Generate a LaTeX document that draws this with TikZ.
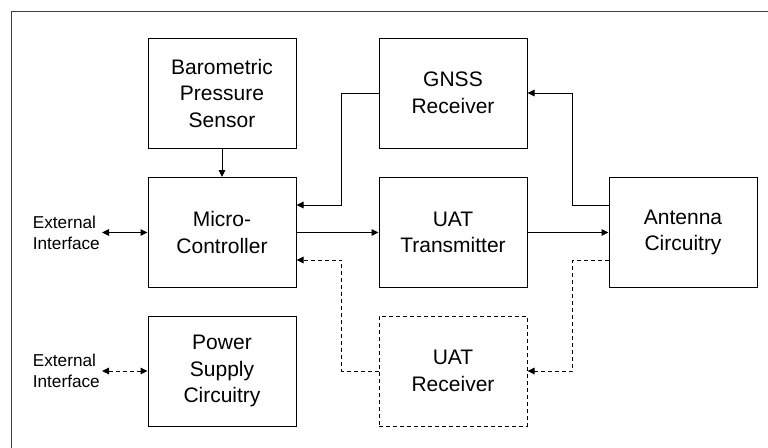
\documentclass[tikz,border=0pt]{standalone}
\usepackage{fontspec}
\setmainfont{Liberation Sans}
\usetikzlibrary{arrows.meta}
\begin{document}
\begin{tikzpicture}[x=1pt,y=-1pt,
  blk/.style={draw=black,line width=1pt,minimum width=148pt,minimum height=110pt,align=center,
    font=\fontsize{21}{26.5}\selectfont,inner sep=0pt},
  lbl/.style={align=left,font=\fontsize{17.2}{20.8}\selectfont,inner sep=2pt},
  arr/.style={line width=1pt,-{Triangle[length=7pt,width=6.5pt]}},
  darr/.style={arr,dash pattern=on 4pt off 3pt},
  biarr/.style={line width=1pt,{Triangle[length=7pt,width=6.5pt]}-{Triangle[length=7pt,width=6.5pt]}},
  dbiarr/.style={biarr,dash pattern=on 4pt off 3pt}]
\path[use as bounding box,clip] (0,0) rectangle (768,447);
\fill[white] (0,0) rectangle (768,447);
\draw[line width=1pt,black!75] (11,11) rectangle (790,470);

\node[blk] (baro) at (222,93) {Barometric\\Pressure\\Sensor};
\node[blk] (gnss) at (453,93) {GNSS\\Receiver};
\node[blk] (micro) at (222,232.5) {Micro-\\Controller};
\node[blk] (tx) at (453,232.5) {UAT\\Transmitter};
\node[blk] (ant) at (683,232.5) {Antenna\\Circuitry};
\node[blk] (pwr) at (222,371) {Power\\Supply\\Circuitry};
\node[blk,dash pattern=on 4pt off 3pt] (rx) at (453,371) {UAT\\Receiver};

\node[lbl,anchor=east] (ext1) at (102,232.5) {External\\Interface};
\node[lbl,anchor=east] (ext2) at (102,371) {External\\Interface};

\draw[arr] (baro.south) -- (micro.north);
\draw[arr] (gnss.west) -- ++(-37,0) |- ([yshift=27.5pt]micro.east);
\draw[arr] (micro.east) -- (tx.west);
\draw[arr] (tx.east) -- (ant.west);
\draw[arr] ([yshift=27.5pt]ant.west) -- ++(-36,0) |- (gnss.east);
\draw[darr] ([yshift=-27.5pt]ant.west) -- ++(-36,0) |- (rx.east);
\draw[darr] (rx.west) -- ++(-37,0) |- ([yshift=-27.5pt]micro.east);
\draw[biarr] (ext1.east) -- (micro.west);
\draw[dbiarr] (ext2.east) -- (pwr.west);
\end{tikzpicture}
\end{document}
